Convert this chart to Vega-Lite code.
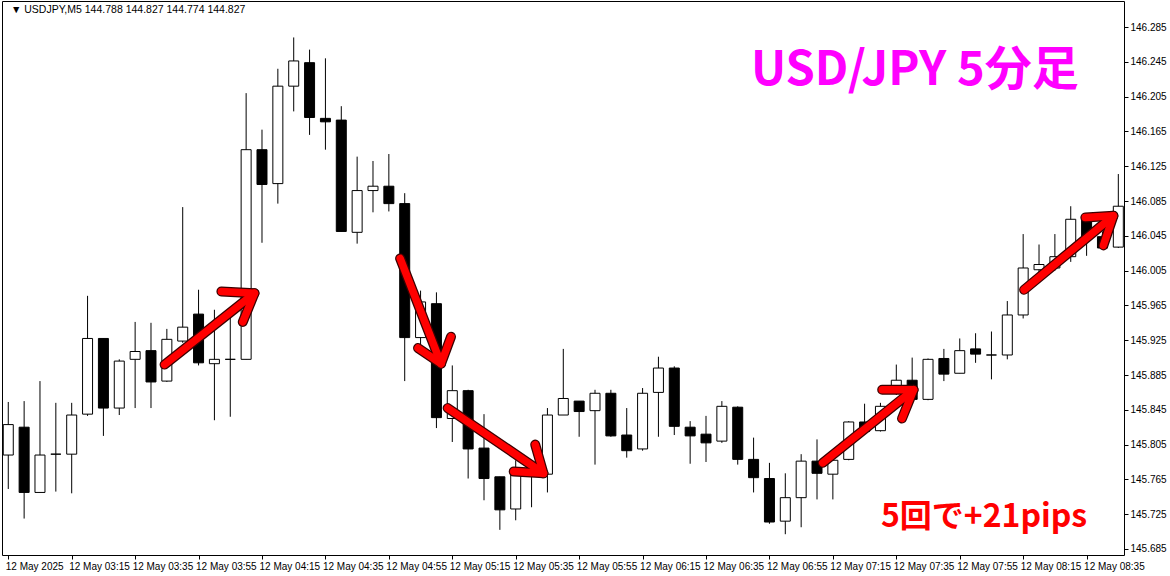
{
  "$schema": "https://vega.github.io/schema/vega-lite/v6.json",
  "width": 1122,
  "height": 554,
  "autosize": {"type": "none"},
  "padding": {"left": 2, "top": 1, "right": 46, "bottom": 21},
  "background": "white",
  "config": {
    "view": {"stroke": "black", "strokeWidth": 1},
    "font": "Liberation Sans",
    "axis": {"labelOverlap": false, "labelBound": false, "labelFlush": false, "grid": false, "domain": false, "title": null}
  },
  "datasets": {
    "candles": [
      {"t": "2025-05-12T02:55:00", "o": 145.793, "h": 145.854, "l": 145.754, "c": 145.828},
      {"t": "2025-05-12T03:00:00", "o": 145.825, "h": 145.855, "l": 145.720, "c": 145.750},
      {"t": "2025-05-12T03:05:00", "o": 145.750, "h": 145.878, "l": 145.750, "c": 145.793},
      {"t": "2025-05-12T03:10:00", "o": 145.794, "h": 145.853, "l": 145.751, "c": 145.794},
      {"t": "2025-05-12T03:15:00", "o": 145.794, "h": 145.853, "l": 145.749, "c": 145.839},
      {"t": "2025-05-12T03:20:00", "o": 145.840, "h": 145.976, "l": 145.838, "c": 145.927},
      {"t": "2025-05-12T03:25:00", "o": 145.927, "h": 145.927, "l": 145.815, "c": 145.847},
      {"t": "2025-05-12T03:30:00", "o": 145.847, "h": 145.903, "l": 145.839, "c": 145.901},
      {"t": "2025-05-12T03:35:00", "o": 145.903, "h": 145.946, "l": 145.847, "c": 145.912},
      {"t": "2025-05-12T03:40:00", "o": 145.913, "h": 145.945, "l": 145.847, "c": 145.877},
      {"t": "2025-05-12T03:45:00", "o": 145.878, "h": 145.938, "l": 145.877, "c": 145.926},
      {"t": "2025-05-12T03:50:00", "o": 145.924, "h": 146.078, "l": 145.922, "c": 145.940},
      {"t": "2025-05-12T03:55:00", "o": 145.955, "h": 145.983, "l": 145.896, "c": 145.899},
      {"t": "2025-05-12T04:00:00", "o": 145.898, "h": 145.960, "l": 145.833, "c": 145.903},
      {"t": "2025-05-12T04:05:00", "o": 145.903, "h": 145.954, "l": 145.837, "c": 145.903},
      {"t": "2025-05-12T04:10:00", "o": 145.903, "h": 146.209, "l": 145.903, "c": 146.144},
      {"t": "2025-05-12T04:15:00", "o": 146.144, "h": 146.167, "l": 146.037, "c": 146.104},
      {"t": "2025-05-12T04:20:00", "o": 146.105, "h": 146.237, "l": 146.082, "c": 146.217},
      {"t": "2025-05-12T04:25:00", "o": 146.217, "h": 146.273, "l": 146.188, "c": 146.246},
      {"t": "2025-05-12T04:30:00", "o": 146.244, "h": 146.259, "l": 146.161, "c": 146.181},
      {"t": "2025-05-12T04:35:00", "o": 146.180, "h": 146.249, "l": 146.144, "c": 146.176},
      {"t": "2025-05-12T04:40:00", "o": 146.178, "h": 146.194, "l": 146.050, "c": 146.050},
      {"t": "2025-05-12T04:45:00", "o": 146.049, "h": 146.136, "l": 146.036, "c": 146.097},
      {"t": "2025-05-12T04:50:00", "o": 146.097, "h": 146.131, "l": 146.072, "c": 146.102},
      {"t": "2025-05-12T04:55:00", "o": 146.102, "h": 146.139, "l": 146.073, "c": 146.082},
      {"t": "2025-05-12T05:00:00", "o": 146.082, "h": 146.094, "l": 145.878, "c": 145.928},
      {"t": "2025-05-12T05:05:00", "o": 145.928, "h": 145.982, "l": 145.920, "c": 145.969},
      {"t": "2025-05-12T05:10:00", "o": 145.967, "h": 145.980, "l": 145.824, "c": 145.836},
      {"t": "2025-05-12T05:15:00", "o": 145.835, "h": 145.896, "l": 145.808, "c": 145.867},
      {"t": "2025-05-12T05:20:00", "o": 145.867, "h": 145.868, "l": 145.766, "c": 145.800},
      {"t": "2025-05-12T05:25:00", "o": 145.801, "h": 145.840, "l": 145.741, "c": 145.766},
      {"t": "2025-05-12T05:30:00", "o": 145.768, "h": 145.768, "l": 145.707, "c": 145.730},
      {"t": "2025-05-12T05:35:00", "o": 145.731, "h": 145.787, "l": 145.718, "c": 145.776},
      {"t": "2025-05-12T05:40:00", "o": 145.770, "h": 145.785, "l": 145.733, "c": 145.780},
      {"t": "2025-05-12T05:45:00", "o": 145.771, "h": 145.847, "l": 145.750, "c": 145.839},
      {"t": "2025-05-12T05:50:00", "o": 145.839, "h": 145.915, "l": 145.839, "c": 145.858},
      {"t": "2025-05-12T05:55:00", "o": 145.855, "h": 145.855, "l": 145.814, "c": 145.843},
      {"t": "2025-05-12T06:00:00", "o": 145.844, "h": 145.868, "l": 145.782, "c": 145.864},
      {"t": "2025-05-12T06:05:00", "o": 145.864, "h": 145.868, "l": 145.814, "c": 145.815},
      {"t": "2025-05-12T06:10:00", "o": 145.816, "h": 145.847, "l": 145.790, "c": 145.798},
      {"t": "2025-05-12T06:15:00", "o": 145.800, "h": 145.870, "l": 145.798, "c": 145.864},
      {"t": "2025-05-12T06:20:00", "o": 145.865, "h": 145.906, "l": 145.814, "c": 145.893},
      {"t": "2025-05-12T06:25:00", "o": 145.893, "h": 145.895, "l": 145.816, "c": 145.826},
      {"t": "2025-05-12T06:30:00", "o": 145.825, "h": 145.832, "l": 145.783, "c": 145.815},
      {"t": "2025-05-12T06:35:00", "o": 145.817, "h": 145.838, "l": 145.785, "c": 145.807},
      {"t": "2025-05-12T06:40:00", "o": 145.809, "h": 145.855, "l": 145.807, "c": 145.849},
      {"t": "2025-05-12T06:45:00", "o": 145.848, "h": 145.849, "l": 145.782, "c": 145.788},
      {"t": "2025-05-12T06:50:00", "o": 145.788, "h": 145.813, "l": 145.750, "c": 145.767},
      {"t": "2025-05-12T06:55:00", "o": 145.766, "h": 145.784, "l": 145.714, "c": 145.716},
      {"t": "2025-05-12T07:00:00", "o": 145.717, "h": 145.772, "l": 145.702, "c": 145.744},
      {"t": "2025-05-12T07:05:00", "o": 145.744, "h": 145.794, "l": 145.710, "c": 145.786},
      {"t": "2025-05-12T07:10:00", "o": 145.786, "h": 145.811, "l": 145.742, "c": 145.772},
      {"t": "2025-05-12T07:15:00", "o": 145.771, "h": 145.792, "l": 145.742, "c": 145.787},
      {"t": "2025-05-12T07:20:00", "o": 145.788, "h": 145.832, "l": 145.787, "c": 145.831},
      {"t": "2025-05-12T07:25:00", "o": 145.831, "h": 145.852, "l": 145.818, "c": 145.820},
      {"t": "2025-05-12T07:30:00", "o": 145.821, "h": 145.853, "l": 145.820, "c": 145.849},
      {"t": "2025-05-12T07:35:00", "o": 145.865, "h": 145.897, "l": 145.862, "c": 145.879},
      {"t": "2025-05-12T07:40:00", "o": 145.879, "h": 145.905, "l": 145.857, "c": 145.857},
      {"t": "2025-05-12T07:45:00", "o": 145.857, "h": 145.904, "l": 145.856, "c": 145.903},
      {"t": "2025-05-12T07:50:00", "o": 145.904, "h": 145.915, "l": 145.878, "c": 145.886},
      {"t": "2025-05-12T07:55:00", "o": 145.887, "h": 145.927, "l": 145.887, "c": 145.913},
      {"t": "2025-05-12T08:00:00", "o": 145.915, "h": 145.933, "l": 145.899, "c": 145.909},
      {"t": "2025-05-12T08:05:00", "o": 145.908, "h": 145.935, "l": 145.880, "c": 145.908},
      {"t": "2025-05-12T08:10:00", "o": 145.908, "h": 145.970, "l": 145.903, "c": 145.954},
      {"t": "2025-05-12T08:15:00", "o": 145.954, "h": 146.047, "l": 145.950, "c": 146.008},
      {"t": "2025-05-12T08:20:00", "o": 146.006, "h": 146.035, "l": 146.003, "c": 146.012},
      {"t": "2025-05-12T08:25:00", "o": 146.008, "h": 146.047, "l": 146.005, "c": 146.021},
      {"t": "2025-05-12T08:30:00", "o": 146.021, "h": 146.079, "l": 146.015, "c": 146.064},
      {"t": "2025-05-12T08:35:00", "o": 146.063, "h": 146.066, "l": 146.022, "c": 146.044},
      {"t": "2025-05-12T08:40:00", "o": 146.044, "h": 146.050, "l": 146.030, "c": 146.031},
      {"t": "2025-05-12T08:45:00", "o": 146.032, "h": 146.116, "l": 146.031, "c": 146.079}
    ],
    "arrows": [
      {"seg": "a1", "ord": 0, "t": "2025-05-12T03:44:17", "p": 145.897},
      {"seg": "a1", "ord": 1, "t": "2025-05-12T04:12:38", "p": 145.979},
      {"seg": "h1", "ord": 0, "t": "2025-05-12T04:02:12", "p": 145.981},
      {"seg": "h1", "ord": 1, "t": "2025-05-12T04:12:38", "p": 145.979},
      {"seg": "h1", "ord": 2, "t": "2025-05-12T04:08:57", "p": 145.946},
      {"seg": "a2", "ord": 0, "t": "2025-05-12T04:58:33", "p": 146.019},
      {"seg": "a2", "ord": 1, "t": "2025-05-12T05:11:27", "p": 145.898},
      {"seg": "h2", "ord": 0, "t": "2025-05-12T05:04:12", "p": 145.916},
      {"seg": "h2", "ord": 1, "t": "2025-05-12T05:11:27", "p": 145.898},
      {"seg": "h2", "ord": 2, "t": "2025-05-12T05:14:36", "p": 145.929},
      {"seg": "a3", "ord": 0, "t": "2025-05-12T05:13:33", "p": 145.847},
      {"seg": "a3", "ord": 1, "t": "2025-05-12T05:43:45", "p": 145.772},
      {"seg": "h3", "ord": 0, "t": "2025-05-12T05:34:22", "p": 145.774},
      {"seg": "h3", "ord": 1, "t": "2025-05-12T05:43:45", "p": 145.772},
      {"seg": "h3", "ord": 2, "t": "2025-05-12T05:41:09", "p": 145.805},
      {"seg": "a4", "ord": 0, "t": "2025-05-12T07:11:48", "p": 145.784},
      {"seg": "a4", "ord": 1, "t": "2025-05-12T07:40:27", "p": 145.868},
      {"seg": "h4", "ord": 0, "t": "2025-05-12T07:30:33", "p": 145.868},
      {"seg": "h4", "ord": 1, "t": "2025-05-12T07:40:27", "p": 145.868},
      {"seg": "h4", "ord": 2, "t": "2025-05-12T07:36:48", "p": 145.835},
      {"seg": "a5", "ord": 0, "t": "2025-05-12T08:15:18", "p": 145.983},
      {"seg": "a5", "ord": 1, "t": "2025-05-12T08:43:27", "p": 146.068},
      {"seg": "h5", "ord": 0, "t": "2025-05-12T08:34:36", "p": 146.066},
      {"seg": "h5", "ord": 1, "t": "2025-05-12T08:43:27", "p": 146.068},
      {"seg": "h5", "ord": 2, "t": "2025-05-12T08:40:18", "p": 146.034}
    ]
  },
  "layer": [
    {
      "data": {"name": "candles"},
      "mark": {"type": "rule", "color": "black", "strokeWidth": 1, "clip": true},
      "encoding": {
        "x": {
          "field": "t", "type": "temporal",
          "scale": {"domain": [
            {"year": 2025, "month": 5, "date": 12, "hours": 2, "minutes": 54, "seconds": 36},
            {"year": 2025, "month": 5, "date": 12, "hours": 8, "minutes": 45, "seconds": 13}
          ]},
          "axis": {
            "orient": "bottom", "title": null, "grid": false, "domain": false, "tickCount": 40,
            "values": [
              {"year": 2025, "month": 5, "date": 12, "hours": 2, "minutes": 55},
              {"year": 2025, "month": 5, "date": 12, "hours": 3, "minutes": 15},
              {"year": 2025, "month": 5, "date": 12, "hours": 3, "minutes": 35},
              {"year": 2025, "month": 5, "date": 12, "hours": 3, "minutes": 55},
              {"year": 2025, "month": 5, "date": 12, "hours": 4, "minutes": 15},
              {"year": 2025, "month": 5, "date": 12, "hours": 4, "minutes": 35},
              {"year": 2025, "month": 5, "date": 12, "hours": 4, "minutes": 55},
              {"year": 2025, "month": 5, "date": 12, "hours": 5, "minutes": 15},
              {"year": 2025, "month": 5, "date": 12, "hours": 5, "minutes": 35},
              {"year": 2025, "month": 5, "date": 12, "hours": 5, "minutes": 55},
              {"year": 2025, "month": 5, "date": 12, "hours": 6, "minutes": 15},
              {"year": 2025, "month": 5, "date": 12, "hours": 6, "minutes": 35},
              {"year": 2025, "month": 5, "date": 12, "hours": 6, "minutes": 55},
              {"year": 2025, "month": 5, "date": 12, "hours": 7, "minutes": 15},
              {"year": 2025, "month": 5, "date": 12, "hours": 7, "minutes": 35},
              {"year": 2025, "month": 5, "date": 12, "hours": 7, "minutes": 55},
              {"year": 2025, "month": 5, "date": 12, "hours": 8, "minutes": 15},
              {"year": 2025, "month": 5, "date": 12, "hours": 8, "minutes": 35}
            ],
            "labelExpr": "hours(datum.value) == 2 ? '12 May 2025' : timeFormat(datum.value, '%d %b %H:%M')",
            "labelAlign": "left", "labelBaseline": "top", "labelFontSize": 10, "labelColor": "black",
            "labelFont": "Liberation Sans", "labelPadding": 2, "labelOffset": -3, "labelOverlap": false, "labelFlush": false,
            "tickColor": "black", "tickSize": 4, "tickWidth": 1
          }
        },
        "y": {
          "field": "l", "type": "quantitative",
          "scale": {"domain": [145.6781, 146.3149], "zero": false, "nice": false},
          "axis": {
            "orient": "right", "title": null, "grid": false, "domain": false, "tickCount": 40,
            "values": [145.685, 145.725, 145.765, 145.805, 145.845, 145.885, 145.925, 145.965, 146.005, 146.045, 146.085, 146.125, 146.165, 146.205, 146.245, 146.285],
            "format": ".3f", "labelFontSize": 10, "labelColor": "black", "labelFont": "Liberation Sans",
            "labelPadding": 2, "labelOverlap": false, "labelFlush": false, "labelBound": false,
            "tickColor": "black", "tickSize": 4, "tickWidth": 1
          }
        },
        "y2": {"field": "h"}
      }
    },
    {
      "data": {"name": "candles"},
      "mark": {"type": "bar", "width": 10, "stroke": "black", "strokeWidth": 1, "clip": true},
      "encoding": {
        "x": {"field": "t", "type": "temporal"},
        "y": {"field": "o", "type": "quantitative"},
        "y2": {"field": "c"},
        "fill": {"condition": {"test": "datum.c >= datum.o", "value": "white"}, "value": "black"}
      }
    },
    {
      "data": {"name": "arrows"},
      "mark": {"type": "line", "color": "#3a0000", "strokeWidth": 10, "strokeCap": "round", "strokeJoin": "round", "clip": true},
      "encoding": {
        "x": {"field": "t", "type": "temporal"},
        "y": {"field": "p", "type": "quantitative"},
        "detail": {"field": "seg"},
        "order": {"field": "ord"}
      }
    },
    {
      "data": {"name": "arrows"},
      "mark": {"type": "line", "color": "#ff0000", "strokeWidth": 7.5, "strokeCap": "round", "strokeJoin": "round", "clip": true},
      "encoding": {
        "x": {"field": "t", "type": "temporal"},
        "y": {"field": "p", "type": "quantitative"},
        "detail": {"field": "seg"},
        "order": {"field": "ord"}
      }
    },
    {
      "data": {"values": [{"t": "2025-05-12T02:55:51", "p": 146.3045, "label": "▼ USDJPY,M5  144.788 144.827 144.774 144.827"}]},
      "mark": {"type": "text", "align": "left", "baseline": "middle", "font": "Liberation Sans", "fontSize": 10.5, "color": "black"},
      "encoding": {
        "x": {"field": "t", "type": "temporal"},
        "y": {"field": "p", "type": "quantitative"},
        "text": {"field": "label"}
      }
    },
    {
      "data": {"values": [{"t": "2025-05-12T07:40:50", "p": 146.234, "label": "USD/JPY 5分足"}]},
      "mark": {"type": "text", "align": "center", "baseline": "middle", "font": "Noto Sans CJK JP", "fontWeight": "bold", "fontSize": 47, "color": "#ff00ff"},
      "encoding": {
        "x": {"field": "t", "type": "temporal"},
        "y": {"field": "p", "type": "quantitative"},
        "text": {"field": "label"}
      }
    },
    {
      "data": {"values": [{"t": "2025-05-12T08:02:40", "p": 145.722, "label": "5回で+21pips"}]},
      "mark": {"type": "text", "align": "center", "baseline": "middle", "font": "Noto Sans CJK JP", "fontWeight": "bold", "fontSize": 32, "color": "#ff0000"},
      "encoding": {
        "x": {"field": "t", "type": "temporal"},
        "y": {"field": "p", "type": "quantitative"},
        "text": {"field": "label"}
      }
    }
  ]
}
